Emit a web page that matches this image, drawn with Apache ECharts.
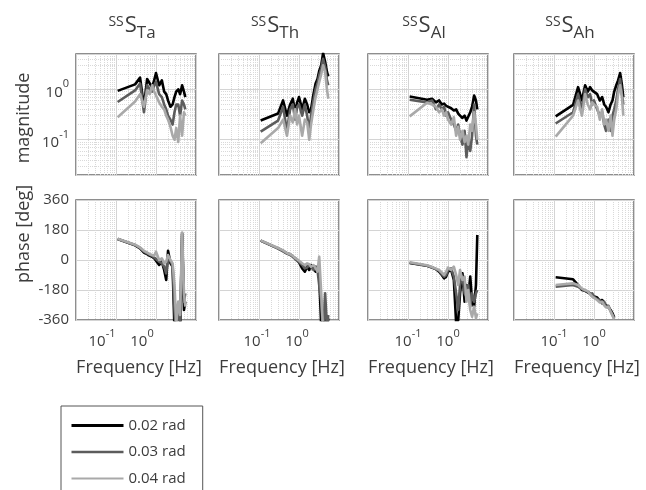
<!DOCTYPE html>
<html>
<head>
<meta charset="utf-8">
<script src="https://cdn.jsdelivr.net/npm/echarts@6.0.0/dist/echarts.min.js"></script>
<style>
  html, body { margin: 0; padding: 0; background: #fff; }
  #chart { width: 646px; height: 490px; }
</style>
</head>
<body>
<div id="chart"></div>
<script>
// frequency points shared by every panel (Hz)
const freq = [0.11, 0.3, 0.4, 0.5, 0.6, 0.7, 0.8, 0.9, 1.0, 1.2, 1.4, 1.6, 1.8, 2.0, 2.3, 2.6, 2.9, 3.2, 3.6, 4.0, 4.5, 5.0, 5.4];

const amplitudes = ['0.02 rad', '0.03 rad', '0.04 rad'];
const subscripts = ['Ta', 'Th', 'Al', 'Ah'];
const xLabelPowers = [-1, 0];     // 10^-1, 10^0
const magLabelPowers = [-1, 0];
const phaseTicks = [-360, -180, 0, 180, 360];

// magnitude, one array per amplitude
const magTa02 = [0.93, 1.25, 1.7, 0.45, 1.6, 1.3, 1.1, 1.5, 2.1, 1.2, 1.5, 0.9, 0.8, 0.6, 0.45, 0.5, 0.7, 0.9, 1.0, 0.8, 1.2, 0.9, 0.7];
const magTa03 = [0.56, 0.95, 1.3, 0.35, 1.2, 1.0, 0.9, 1.2, 1.4, 0.8, 0.7, 0.5, 0.4, 0.3, 0.25, 0.2, 0.35, 0.5, 0.5, 0.3, 0.6, 0.5, 0.4];
const magTa04 = [0.28, 0.57, 0.8, 0.45, 0.95, 0.8, 1.2, 0.9, 0.75, 0.55, 0.45, 0.4, 0.3, 0.25, 0.18, 0.12, 0.1, 0.17, 0.09, 0.3, 0.12, 0.35, 0.3];

const magTh02 = [0.24, 0.33, 0.6, 0.3, 0.5, 0.65, 0.35, 0.55, 0.7, 0.4, 0.65, 0.5, 0.35, 0.4, 0.8, 1.3, 1.6, 2.3, 3.0, 5.2, 3.5, 2.2, 1.8];
const magTh03 = [0.145, 0.24, 0.45, 0.15, 0.4, 0.5, 0.25, 0.45, 0.5, 0.3, 0.5, 0.3, 0.15, 0.3, 0.6, 1.0, 1.3, 1.9, 2.6, 4.0, 2.8, 1.5, 1.2];
const magTh04 = [0.085, 0.17, 0.25, 0.12, 0.3, 0.22, 0.4, 0.2, 0.3, 0.12, 0.25, 0.22, 0.1, 0.2, 0.4, 0.7, 1.0, 1.4, 2.0, 3.0, 2.2, 1.0, 0.65];

const magAl02 = [0.72, 0.62, 0.65, 0.55, 0.6, 0.5, 0.52, 0.47, 0.5, 0.42, 0.38, 0.4, 0.33, 0.3, 0.27, 0.3, 0.24, 0.26, 0.35, 0.45, 0.75, 0.6, 0.4];
const magAl03 = [0.62, 0.55, 0.6, 0.4, 0.5, 0.4, 0.45, 0.3, 0.35, 0.25, 0.2, 0.15, 0.2, 0.12, 0.08, 0.15, 0.045, 0.1, 0.06, 0.12, 0.5, 0.12, 0.08];
const magAl04 = [0.29, 0.54, 0.5, 0.45, 0.35, 0.4, 0.3, 0.35, 0.25, 0.2, 0.28, 0.12, 0.18, 0.1, 0.15, 0.09, 0.12, 0.08, 0.2, 0.15, 0.35, 0.2, 0.1];

const magAh02 = [0.29, 0.49, 1.1, 0.6, 1.2, 0.9, 1.1, 0.95, 0.9, 0.8, 0.6, 0.7, 0.5, 0.45, 0.35, 0.5, 0.6, 0.9, 1.2, 1.5, 2.1, 1.2, 0.7];
const magAh03 = [0.21, 0.35, 0.8, 0.4, 1.0, 0.7, 0.8, 0.5, 0.6, 0.4, 0.3, 0.35, 0.2, 0.15, 0.25, 0.15, 0.3, 0.4, 0.6, 1.0, 1.6, 0.8, 0.5];
const magAh04 = [0.115, 0.3, 0.6, 0.3, 0.8, 0.5, 0.4, 0.55, 0.5, 0.45, 0.25, 0.4, 0.2, 0.25, 0.15, 0.3, 0.12, 0.25, 0.4, 0.8, 1.2, 0.7, 0.3];

// phase in degrees (values below -360 are cut off by the axes)
const phaseTa02 = [126, 88, 70, 45, 35, 25, 20, 10, 5, -30, -10, -60, -120, 55, -20, -40, -420, -500, -380, -450, 160, -300, -250];
const phaseTa03 = [126, 90, 72, 50, 40, 30, 25, 15, 10, -10, -20, -40, -80, 20, -10, -30, -300, -450, -320, -400, 150, -250, -200];
const phaseTa04 = [128, 92, 75, 55, 45, 35, 30, 25, 50, 0, 10, -20, -10, 30, 0, -20, -150, -380, -250, -330, 165, -200, -280];

const phaseTh02 = [116, 70, 55, 40, 35, 20, 10, 0, -15, -50, -70, -40, -60, -30, -50, -70, -40, -100, -400, -450, -300, -420, -350];
const phaseTh03 = [116, 68, 52, 38, 30, 20, 5, -5, -10, -30, -50, -45, -30, -40, -60, -40, -60, -150, -250, -450, -200, -400, -330];
const phaseTh04 = [118, 72, 58, 42, 35, 25, 12, 5, -5, -20, -30, -20, -25, -40, -30, -50, -70, 20, -200, -420, -380, -480, -400];

const phaseAl02 = [-18, -35, -45, -55, -70, -90, -110, -100, -70, -60, -120, -380, -360, -200, -80, -250, -150, -220, -100, -250, -280, -150, 150];
const phaseAl03 = [-16, -35, -45, -55, -65, -85, -100, -90, -60, -50, -100, -200, -300, -150, -100, -200, -220, -150, -280, -200, -250, -200, -180];
const phaseAl04 = [-14, -32, -42, -52, -60, -75, -90, -70, -45, -60, -40, -90, -150, -60, -120, -100, -250, -180, -300, -340, -280, -350, -320];

const phaseAh02 = [-104, -116, -150, -180, -185, -195, -200, -215, -215, -225, -245, -240, -260, -270, -285, -300, -320, -345, null, null, null, null, null];
const phaseAh03 = [-160, -150, -160, -175, -185, -190, -205, -200, -220, -235, -240, -262, -250, -280, -275, -305, -315, -350, null, null, null, null, null];
const phaseAh04 = [-150, -140, -150, -172, -180, -188, -205, -220, -212, -240, -255, -250, -272, -285, -280, -310, -300, -355, null, null, null, null, null];

const magData = [
  [magTa02, magTa03, magTa04],
  [magTh02, magTh03, magTh04],
  [magAl02, magAl03, magAl04],
  [magAh02, magAh03, magAh04]
];
const phaseData = [
  [phaseTa02, phaseTa03, phaseTa04],
  [phaseTh02, phaseTh03, phaseTh04],
  [phaseAl02, phaseAl03, phaseAl04],
  [phaseAh02, phaseAh03, phaseAh04]
];

const FONT = 'Open Sans';
const TXT = '#3c3c3c';
const lineColors = ['#000000', '#5c5c5c', '#a9a9a9'];
const legendWidths = [3, 2.5, 2];
const lefts = [76, 219, 368, 514];
const W = 120;
// little nudge of the x tick labels seen in the picture (first columns)
const xLabelNudge = [28, 4, 0, 0];

const chart = echarts.init(document.getElementById('chart'), null, { renderer: 'canvas' });

function powerLabel(allowed) {
  return function (v) {
    const p = Math.log10(v);
    const n = Math.round(p);
    if (Math.abs(p - n) > 1e-6 || allowed.indexOf(n) < 0) return '';
    return '{b|10}{e|' + n + '}';
  };
}

function powerRich(nudge) {
  return {
    b: { fontSize: 15, fontFamily: FONT, color: TXT, verticalAlign: 'bottom' },
    e: { fontSize: 11, fontFamily: FONT, color: TXT, verticalAlign: 'bottom', padding: [0, nudge, 10, 0] }
  };
}

const majorLine = { show: true, lineStyle: { color: '#d4d4d4', width: 1 } };
const minorLine = { show: true, lineStyle: { color: '#d9d9d9', width: 1, type: 'dotted' } };

const grids = [], xAxes = [], yAxes = [], series = [];

for (let row = 0; row < 2; row++) {
  for (let c = 0; c < 4; c++) {
    const g = grids.length;
    grids.push({
      left: lefts[c], top: row === 0 ? 54 : 200, width: W, height: row === 0 ? 121 : 120,
      show: true, backgroundColor: '#fff', borderColor: '#6a6a6a', borderWidth: 1.5,
      containLabel: false, outerBoundsMode: 'none'
    });
    xAxes.push({
      type: 'log', logBase: 10, min: 0.01, max: 10, gridIndex: g,
      axisLine: { show: false }, axisTick: { show: false },
      axisLabel: {
        show: row === 1, interval: 0, hideOverlap: false, margin: 8,
        formatter: powerLabel(xLabelPowers), rich: powerRich(xLabelNudge[c])
      },
      splitLine: majorLine,
      minorTick: { show: false, splitNumber: 9 },
      minorSplitLine: minorLine
    });
    if (row === 0) {
      yAxes.push({
        type: 'log', logBase: 10, min: 0.02, max: 5, gridIndex: g,
        axisLine: { show: false }, axisTick: { show: false },
        axisLabel: {
          show: c === 0, interval: 0, hideOverlap: false, margin: 7,
          formatter: powerLabel(magLabelPowers), rich: powerRich(0)
        },
        splitLine: majorLine,
        minorTick: { show: false, splitNumber: 9 },
        minorSplitLine: minorLine
      });
    } else {
      yAxes.push({
        type: 'value', min: phaseTicks[0], max: phaseTicks[phaseTicks.length - 1],
        interval: phaseTicks[1] - phaseTicks[0], gridIndex: g,
        axisLine: { show: false }, axisTick: { show: false },
        axisLabel: { show: c === 0, margin: 7, fontSize: 15, fontFamily: FONT, color: TXT },
        splitLine: majorLine
      });
    }
    const sets = row === 0 ? magData[c] : phaseData[c];
    sets.forEach(function (vals, k) {
      const pts = [];
      vals.forEach(function (v, i) { if (v !== null) pts.push([freq[i], v]); });
      series.push({
        type: 'line', name: amplitudes[k], xAxisIndex: g, yAxisIndex: g,
        data: pts, symbol: 'none', showSymbol: false, silent: true,
        lineStyle: { color: lineColors[k], width: 2.6, join: 'round' },
        itemStyle: { color: lineColors[k] },
        z: 2 + k
      });
    });
  }
}

const graphics = [];
subscripts.forEach(function (s, c) {
  const cx = lefts[c] + W / 2;
  graphics.push({
    type: 'text', x: cx - 4, y: 42,
    style: {
      text: '{a|SS}{b|S}{c|' + s + '}', fill: TXT, align: 'center', verticalAlign: 'bottom',
      rich: {
        a: { fontSize: 14, fontFamily: FONT, fill: TXT, verticalAlign: 'bottom', padding: [0, 1, 13, 0] },
        b: { fontSize: 22, fontFamily: FONT, fill: TXT, verticalAlign: 'bottom', padding: [0, 0, 5, 0] },
        c: { fontSize: 17, fontFamily: FONT, fill: TXT, verticalAlign: 'bottom' }
      }
    }
  });
  graphics.push({
    type: 'text', x: cx + 3, y: 368,
    style: { text: 'Frequency [Hz]', font: '18px "' + FONT + '"', fill: TXT, align: 'center', verticalAlign: 'middle' }
  });
});
graphics.push({
  type: 'text', x: 24, y: 118, rotation: Math.PI / 2,
  style: { text: 'magnitude', font: '18px "' + FONT + '"', fill: TXT, align: 'center', verticalAlign: 'middle' }
});
graphics.push({
  type: 'text', x: 24, y: 234, rotation: Math.PI / 2,
  style: { text: 'phase [deg]', font: '18px "' + FONT + '"', fill: TXT, align: 'center', verticalAlign: 'middle' }
});

chart.setOption({
  animation: false,
  backgroundColor: '#fff',
  textStyle: { fontFamily: FONT },
  legend: {
    data: amplitudes.map(function (name, k) {
      return { name: name, lineStyle: { width: legendWidths[k] } };
    }),
    orient: 'vertical', left: 61, top: 406, height: 120,
    padding: [12, 17, 14, 9], itemWidth: 52, itemHeight: 14, itemGap: 11.5,
    borderColor: '#555', borderWidth: 1, selectedMode: false,
    itemStyle: { opacity: 0 },
    textStyle: { fontSize: 15, color: TXT, fontFamily: FONT }
  },
  grid: grids,
  xAxis: xAxes,
  yAxis: yAxes,
  series: series,
  graphic: graphics
});
</script>
</body>
</html>
